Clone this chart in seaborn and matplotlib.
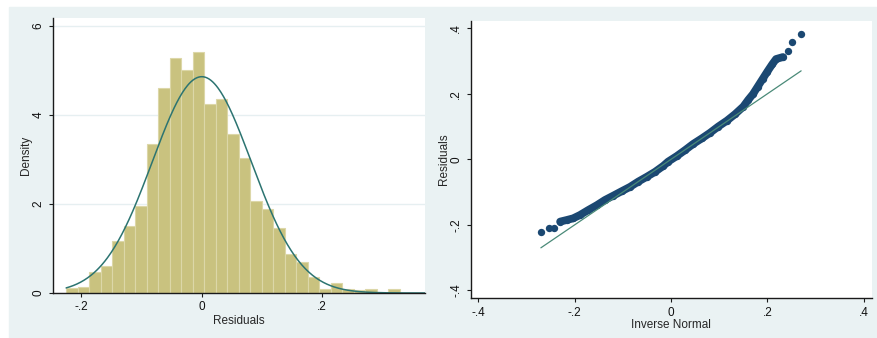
import numpy as np
import pandas as pd
import seaborn as sns
import matplotlib.pyplot as plt
from matplotlib.patches import Rectangle

# left panel: histogram of residuals, densities
bin_left = -0.2252
bin_width = 0.0191
hist_density = [0.12, 0.13, 0.46, 0.60, 1.17, 1.50, 1.95, 3.34, 4.60, 5.27,
                5.00, 5.41, 4.24, 4.36, 3.56, 3.04, 2.06, 1.88, 1.45, 0.87,
                0.70, 0.37, 0.10, 0.23, 0.10, 0.076, 0.10, 0.0, 0.10]
# normal overlay parameters
norm_mean = 0.0
norm_sd = 0.0822
hist_xticks = [-0.2, 0.0, 0.2]
hist_xlabels = ['-.2', '0', '.2']
hist_yticks = [0, 2, 4, 6]
hist_ylabels = ['0', '2', '4', '6']

# right panel: qnorm of residuals (inverse normal vs residual)
qq_x = [-0.270, -0.253, -0.243, -0.230, -0.216, -0.203, -0.189, -0.172, -0.154,
        -0.137, -0.120, -0.102, -0.085, -0.068, -0.050, -0.033, -0.016, -0.006,
        0.012, 0.029, 0.046, 0.064, 0.081, 0.098, 0.116, 0.133, 0.150, 0.160,
        0.170, 0.180, 0.190, 0.200, 0.210, 0.218, 0.232, 0.242, 0.252, 0.269]
qq_y = [-0.223, -0.209, -0.210, -0.190, -0.185, -0.180, -0.170, -0.155, -0.140,
        -0.124, -0.111, -0.097, -0.084, -0.068, -0.053, -0.038, -0.020, -0.007,
        0.010, 0.028, 0.047, 0.064, 0.081, 0.100, 0.118, 0.138, 0.161, 0.181,
        0.199, 0.222, 0.245, 0.268, 0.290, 0.306, 0.312, 0.332, 0.358, 0.382]
ref_x = [-0.27, 0.27]
ref_y = [-0.27, 0.27]
qq_ticks = [-0.4, -0.2, 0.0, 0.2, 0.4]
qq_labels = ['-.4', '-.2', '0', '.2', '.4']

sns.set_theme(style='white')
plt.rcParams['font.family'] = ['Liberation Sans', 'DejaVu Sans']

W, H = 877, 338
fig = plt.figure(figsize=(W / 100, H / 100), dpi=100, facecolor='white')
fig.add_artist(Rectangle((9 / W, 0), 1 - 9 / W, (H - 7) / H,
                         transform=fig.transFigure, color='#EAF2F3', zorder=0))

ax1 = fig.add_axes([53 / W, 1 - 293 / H, (425 - 53) / W, (293 - 18) / H])
ax2 = fig.add_axes([470.7 / W, 1 - 298.3 / H, (871.7 - 470.7) / W, (298.3 - 20.7) / H])

# histogram
n_bins = len(hist_density)
bin_right = bin_left + bin_width * n_bins
hist_df = pd.DataFrame({'resid': bin_left + bin_width * (np.arange(n_bins) + 0.5),
                        'dens': hist_density})
sns.histplot(data=hist_df, x='resid', weights='dens', binwidth=bin_width,
             binrange=(bin_left, bin_right), stat='count',
             color='#C9C27F', alpha=1, edgecolor='#DCD7A8', linewidth=0.8, ax=ax1)
xs = np.linspace(bin_left, 0.3706, 400)
ys = np.exp(-0.5 * ((xs - norm_mean) / norm_sd) ** 2) / (norm_sd * np.sqrt(2 * np.pi))
sns.lineplot(x=xs, y=ys, color='#2C7471', linewidth=1.1, ax=ax1)
ax1.set_xlim(-0.247, 0.3706)
ax1.set_ylim(0, 6.17)
ax1.set_axisbelow(True)
ax1.grid(axis='y', color='#E6EFF1', linewidth=1.0)
ax1.set_xticks(hist_xticks)
ax1.set_xticklabels(hist_xlabels)
ax1.set_yticks(hist_yticks)
ax1.set_yticklabels(hist_ylabels, rotation=90, va='center')
ax1.set_xlabel('Residuals', fontsize=8.5, labelpad=1.5)
ax1.set_ylabel('Density', fontsize=8.5, labelpad=0.5)

# qnorm
band = slice(3, 35)
sns.lineplot(x=qq_x[band], y=qq_y[band], sort=False, estimator=None,
             color='#1B4872', linewidth=5.6, solid_capstyle='round', ax=ax2)
sns.scatterplot(x=qq_x, y=qq_y, color='#1B4872', s=28, linewidth=0, ax=ax2, zorder=3)
sns.lineplot(x=ref_x, y=ref_y, color='#4A8A78', linewidth=0.9, ax=ax2, zorder=4)
ax2.set_xlim(-0.4156, 0.4164)
ax2.set_ylim(-0.424, 0.423)
ax2.set_xticks(qq_ticks)
ax2.set_xticklabels(qq_labels)
ax2.set_yticks(qq_ticks)
ax2.set_yticklabels(qq_labels, rotation=90, va='center')
ax2.set_xlabel('Inverse Normal', fontsize=8.5, labelpad=0.5)
ax2.set_ylabel('Residuals', fontsize=8.5, labelpad=0.5)

for ax in (ax1, ax2):
    ax.set_facecolor('white')
    for side in ('top', 'right'):
        ax.spines[side].set_visible(False)
    for side in ('left', 'bottom'):
        ax.spines[side].set_color('#1a1a1a')
        ax.spines[side].set_linewidth(1.0)
    ax.tick_params(direction='out', length=3, width=0.8, color='#1a1a1a',
                   labelsize=8.5, labelcolor='#111111', pad=3,
                   left=True, bottom=True)

fig.savefig('out.png', dpi=100)
